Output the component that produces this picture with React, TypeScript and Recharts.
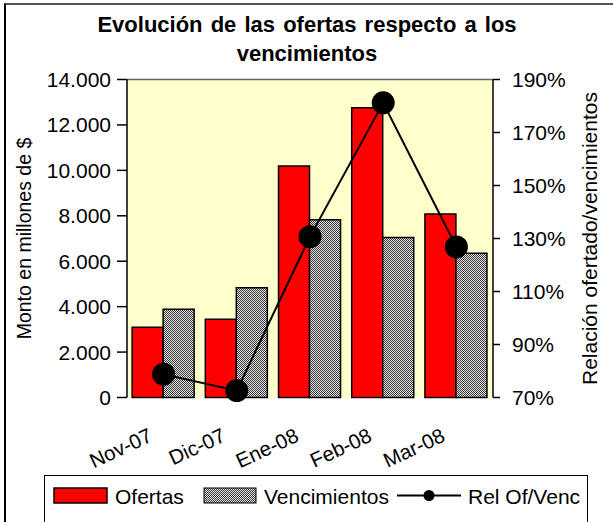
import React from 'react'
import {
  ComposedChart,
  Bar,
  Line,
  XAxis,
  YAxis,
  CartesianGrid,
  ReferenceLine,
  Legend,
} from 'recharts'

const FONT = 'Arial, "Liberation Sans", sans-serif'

const months = ['Nov-07', 'Dic-07', 'Ene-08', 'Feb-08', 'Mar-08']
const ofertas = [3090, 3450, 10190, 12760, 8080]
const vencimientos = [3880, 4830, 7820, 7040, 6350]
const relacion = [78.8, 72.6, 130.7, 181.2, 126.8]

const montoTicks = [0, 2000, 4000, 6000, 8000, 10000, 12000, 14000]
const relTicks = [70, 90, 110, 130, 150, 170, 190]

const data = months.map((mes, i) => ({
  mes,
  ofertas: ofertas[i],
  vencimientos: vencimientos[i],
  relacion: relacion[i],
}))

// tick marks sit between the categories, so a plain numeric axis draws them
const edgeTicks = [...months.map((_, i) => i), months.length]

const fmtMonto = (v: number) => String(v).replace(/\B(?=(\d{3})+(?!\d))/g, '.')
const fmtRel = (v: number) => `${v}%`

const MonthTick = ({ x, y, payload }: any) => (
  <g transform={`translate(${x - 10},${y + 43}) rotate(-25)`}>
    <text x={0} y={0} textAnchor="end" fontSize={20.5} fontFamily={FONT} fill="#000">
      {payload.value}
    </text>
  </g>
)

const AxisTitle = ({ viewBox, value, dx, size }: any) => {
  const cx = viewBox.x + dx
  const cy = viewBox.y + viewBox.height / 2
  return (
    <text
      x={cx}
      y={cy}
      transform={`rotate(-90, ${cx}, ${cy})`}
      textAnchor="middle"
      dominantBaseline="central"
      fontSize={size}
      fontFamily={FONT}
      fill="#000"
    >
      {value}
    </text>
  )
}

const LegendBox = () => (
  <svg width={544} height={47} style={{ display: 'block' }}>
    <rect x={0.5} y={0.5} width={543} height={60} fill="#fff" stroke="#000" />
    <rect x={10} y={13} width={53} height={15} fill="#FF0000" stroke="#000" strokeWidth={1.5} />
    <text x={71} y={28.5} fontSize={21} fontFamily={FONT} fill="#000">Ofertas</text>
    <rect x={160} y={13} width={52} height={15} fill="url(#grisPunteado)" stroke="#000" strokeWidth={1} />
    <text x={220} y={28.5} fontSize={21} fontFamily={FONT} fill="#000">Vencimientos</text>
    <line x1={353} y1={20.5} x2={417} y2={20.5} stroke="#000" strokeWidth={2} />
    <circle cx={385} cy={20.5} r={5.5} fill="#000" />
    <text x={424} y={28.5} fontSize={21} fontFamily={FONT} fill="#000">Rel Of/Venc</text>
  </svg>
)

const App: React.FC = () => {
  return (
    <div style={{ position: 'absolute', left: 0, top: 0, width: 613, height: 522, overflow: 'hidden', background: '#fff' }}>
      <svg width={0} height={0} style={{ position: 'absolute' }}>
        <defs>
          <pattern id="grisPunteado" width={2} height={2} patternUnits="userSpaceOnUse">
            <rect width={2} height={2} fill="#e4e4e4" />
            <rect width={1} height={1} fill="#3a3a3a" />
            <rect x={1} y={1} width={1} height={1} fill="#3a3a3a" />
          </pattern>
        </defs>
      </svg>
      <div
        style={{
          position: 'absolute',
          left: 4,
          top: 3,
          width: 700,
          height: 600,
          borderLeft: '2px solid #000',
          borderTop: '2px solid #555',
        }}
      />
      <ComposedChart
        width={613}
        height={522}
        data={data}
        margin={{ top: 79.5, right: 0, bottom: 0, left: 0 }}
        barGap={0}
        barCategoryGap="7%"
        style={{ fontFamily: FONT }}
      >
        <CartesianGrid xAxisId="cat" yAxisId="left" horizontal={false} vertical={false} fill="#FFFFCC" />
        <XAxis
          xAxisId="edge"
          type="number"
          domain={[0, months.length]}
          ticks={edgeTicks}
          allowDataOverflow
          height={0}
          tick={false}
          tickSize={6}
          axisLine={{ stroke: '#000', strokeWidth: 1.5 }}
          tickLine={{ stroke: '#000', strokeWidth: 1.5 }}
        />
        <XAxis
          xAxisId="cat"
          dataKey="mes"
          height={77.5}
          axisLine={false}
          tickLine={false}
          tickSize={0}
          tickMargin={0}
          interval={0}
          tick={<MonthTick />}
        />
        <YAxis
          yAxisId="left"
          width={127}
          domain={[0, 14000]}
          ticks={montoTicks}
          tickFormatter={fmtMonto}
          tickSize={10}
          tickMargin={6}
          axisLine={{ stroke: '#000', strokeWidth: 1.5 }}
          tickLine={{ stroke: '#000', strokeWidth: 1.5 }}
          tick={{ fill: '#000', fontSize: 21, fontFamily: FONT }}
          label={<AxisTitle value="Monto en millones de $" dx={24} size={19.5} />}
        />
        <YAxis
          yAxisId="right"
          orientation="right"
          width={120}
          domain={[70, 190]}
          ticks={relTicks}
          tickFormatter={fmtRel}
          tickSize={7}
          tickMargin={12}
          axisLine={{ stroke: '#000', strokeWidth: 1.5 }}
          tickLine={{ stroke: '#000', strokeWidth: 1.5 }}
          tick={{ fill: '#000', fontSize: 21, fontFamily: FONT, textAnchor: 'start' }}
          label={<AxisTitle value="Relación ofertado/vencimientos" dx={96} size={21} />}
        />
        <ReferenceLine xAxisId="cat" yAxisId="left" y={14000} stroke="#666" strokeWidth={1.5} />
        <Bar
          xAxisId="cat"
          yAxisId="left"
          dataKey="ofertas"
          name="Ofertas"
          fill="#FF0000"
          stroke="#000"
          strokeWidth={1.5}
          isAnimationActive={false}
        />
        <Bar
          xAxisId="cat"
          yAxisId="left"
          dataKey="vencimientos"
          name="Vencimientos"
          fill="url(#grisPunteado)"
          stroke="#000"
          strokeWidth={1.5}
          isAnimationActive={false}
        />
        <Line
          xAxisId="cat"
          yAxisId="right"
          dataKey="relacion"
          name="Rel Of/Venc"
          stroke="#000"
          strokeWidth={2}
          dot={{ r: 11.5, fill: '#000', stroke: '#000', strokeWidth: 0 }}
          isAnimationActive={false}
        />
        <Legend
          verticalAlign="bottom"
          content={<LegendBox />}
          wrapperStyle={{ left: 44, width: 544, height: 47, bottom: 0 }}
        />
      </ComposedChart>
      <svg width={613} height={70} style={{ position: 'absolute', left: 0, top: 0, pointerEvents: 'none' }}>
        <text x={307} y={31.5} textAnchor="middle" fontSize={22} fontWeight="bold" fontFamily={FONT} fill="#000" wordSpacing={2}>
          Evolución de las ofertas respecto a los
        </text>
        <text x={307} y={60.5} textAnchor="middle" fontSize={22} fontWeight="bold" fontFamily={FONT} fill="#000">
          vencimientos
        </text>
      </svg>
    </div>
  )
}

export default App
